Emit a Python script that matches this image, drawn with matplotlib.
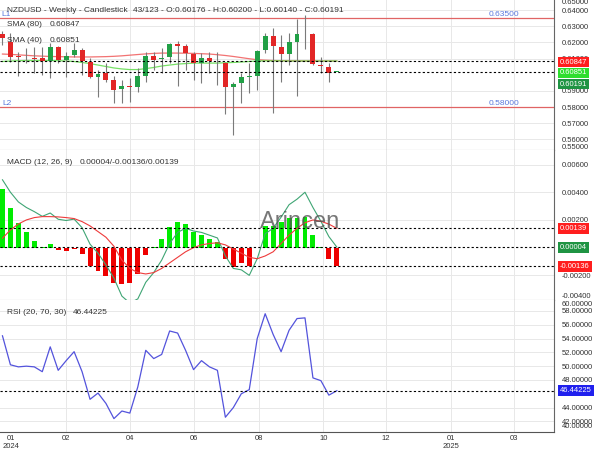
import matplotlib
matplotlib.use("Agg")
import matplotlib.pyplot as plt
import matplotlib.transforms as mtransforms
from matplotlib.ticker import FormatStrFormatter
import numpy as np

plt.rcParams['font.family'] = ['Liberation Sans', 'DejaVu Sans']

# weekly NZDUSD candles, oldest first
opens = [0.6252, 0.6202, 0.6112, 0.6101, 0.6103, 0.6103, 0.6085, 0.6171, 0.6091, 0.6122,
         0.6153, 0.6079, 0.5986, 0.6011, 0.5967, 0.5912, 0.5927, 0.5924, 0.5992, 0.6116,
         0.6097, 0.6110, 0.6190, 0.6178, 0.6128, 0.6072, 0.6103, 0.6079, 0.6072, 0.5924,
         0.5949, 0.5986, 0.5992, 0.6153, 0.6239, 0.6171, 0.6128, 0.6202, 0.6249, 0.6252,
         0.6060, 0.6048, 0.60176]
highs = [0.6270, 0.6258, 0.6140, 0.6165, 0.6171, 0.6171, 0.6196, 0.6178, 0.6140, 0.6196,
         0.6165, 0.6103, 0.6029, 0.6072, 0.5992, 0.5967, 0.5980, 0.6042, 0.6140, 0.6140,
         0.6165, 0.6196, 0.6208, 0.6190, 0.6140, 0.6134, 0.6140, 0.6140, 0.6079, 0.5955,
         0.6011, 0.6072, 0.6153, 0.6258, 0.6289, 0.6245, 0.6258, 0.6344, 0.6369, 0.6255,
         0.6110, 0.6072, 0.60200]
lows = [0.6184, 0.6079, 0.5992, 0.6072, 0.6011, 0.5998, 0.5980, 0.6072, 0.5986, 0.6110,
        0.5998, 0.5980, 0.5862, 0.5955, 0.5825, 0.5825, 0.5831, 0.5893, 0.5955, 0.6029,
        0.6011, 0.6072, 0.5930, 0.6029, 0.5967, 0.5949, 0.6011, 0.5936, 0.5757, 0.5628,
        0.5825, 0.5887, 0.5906, 0.6134, 0.5763, 0.5955, 0.6060, 0.5869, 0.6159, 0.6060,
        0.6011, 0.5955, 0.60140]
closes = [0.6227, 0.6110, 0.6108, 0.6104, 0.6100, 0.6085, 0.6171, 0.6091, 0.6116, 0.6153,
          0.6085, 0.5986, 0.6004, 0.5967, 0.5906, 0.5930, 0.5924, 0.5992, 0.6116, 0.6091,
          0.6103, 0.6190, 0.6178, 0.6134, 0.6072, 0.6103, 0.6085, 0.6076, 0.5924, 0.5943,
          0.5986, 0.5989, 0.6147, 0.6239, 0.6178, 0.6128, 0.6202, 0.6252, 0.6252, 0.6066,
          0.6057, 0.6010, 0.60191]

sma80 = [0.6128, 0.6126, 0.6123, 0.6120, 0.6117, 0.6115, 0.6113, 0.6112, 0.6111, 0.6110,
         0.6110, 0.6110, 0.6111, 0.6112, 0.6114, 0.6117, 0.6121, 0.6125, 0.6129, 0.6132,
         0.6134, 0.6134, 0.6134, 0.6133, 0.6132, 0.6130, 0.6128, 0.6124, 0.6119, 0.6113,
         0.6106, 0.6099, 0.6093, 0.6090, 0.6088, 0.6087, 0.6086, 0.6086, 0.6085, 0.6085,
         0.6085, 0.6085, 0.60847]
sma40 = [0.6082, 0.6085, 0.6087, 0.6088, 0.6088, 0.6088, 0.6088, 0.6087, 0.6085, 0.6082,
         0.6076, 0.6069, 0.6060, 0.6051, 0.6042, 0.6036, 0.6032, 0.6032, 0.6038, 0.6045,
         0.6054, 0.6060, 0.6066, 0.6069, 0.6072, 0.6072, 0.6072, 0.6072, 0.6074, 0.6076,
         0.6079, 0.6082, 0.6085, 0.6086, 0.6086, 0.6086, 0.6085, 0.6085, 0.6085, 0.6085,
         0.6085, 0.6085, 0.60851]

macd_line = [0.0049, 0.0040, 0.0033, 0.0029, 0.0026, 0.00226, 0.0025, 0.00205, 0.00196, 0.00206,
             0.00144, 0.00025, -0.0004, -0.00125, -0.0022, -0.0035, -0.0040, -0.0037, -0.0025, -0.0018,
             -0.0009, 0.0003, 0.0011, 0.0014, 0.0012, 0.0011, 0.0009, 0.0007, -0.0006, -0.0015,
             -0.0016, -0.0020, -0.0008, 0.0010, 0.0014, 0.0022, 0.0031, 0.0035, 0.0040, 0.0029,
             0.0019, 0.0008, 0.00004]
macd_signal = [0.00068, 0.00128, 0.00171, 0.00200, 0.00217, 0.00224, 0.00224, 0.00222, 0.00217, 0.00210,
               0.00188, 0.00157, 0.00116, 0.00075, 0.0001, -0.0009, -0.0015, -0.0018, -0.0019, -0.0018,
               -0.0015, -0.0011, -0.0007, -0.0003, 0.0000, 0.0002, 0.0003, 0.00035, 0.0002, -0.0001,
               -0.0004, -0.0007, -0.0008, -0.0006, -0.0003, 0.0003, 0.0009, 0.0014, 0.0018, 0.0020,
               0.0019, 0.0017, 0.00139]
macd_hist = [0.00424, 0.00289, 0.00181, 0.00111, 0.00051, 0.00002, 0.00024, -0.00017, -0.00022, -0.00007,
             -0.00046, -0.00132, -0.00166, -0.00205, -0.00253, -0.00262, -0.00253, -0.00190, -0.00055, 0.00002,
             0.00061, 0.00147, 0.00186, 0.00171, 0.00116, 0.00089, 0.00061, 0.00039, -0.00082, -0.00142,
             -0.00113, -0.00130, -0.00002, 0.00157, 0.00157, 0.00188, 0.00212, 0.00212, 0.00224, 0.00092,
             0.00002, -0.00084, -0.00136]

rsi = [54.4, 50.2, 49.9, 50.0, 49.9, 49.2, 52.8, 49.4, 50.8, 52.1,
       49.2, 45.2, 46.1, 44.6, 42.4, 43.5, 43.2, 47.0, 52.3, 51.1,
       51.7, 55.1, 54.8, 52.3, 49.5, 50.8, 49.9, 49.4, 42.6, 44.0,
       46.0, 46.6, 54.0, 57.6, 54.6, 52.1, 55.2, 56.9, 57.0, 48.3,
       47.9, 45.8, 46.44225]

level_hi = 0.635
level_lo = 0.580

month_labels = ['01\n2024', '02', '04', '06', '08', '10', '12', '01\n2025', '03']
tick_pos = [1.1, 8.0, 16.0, 24.1, 32.2, 40.3, 48.2, 56.3, 64.3]

W, H = 600, 450
fig = plt.figure(figsize=(6, 4.5), dpi=100)


def fpos(px, py):
    return px / W, 1 - py / H


pw = 554 / W
ax1 = fig.add_axes([0, 1 - 150 / H, pw, 150 / H])
ax2 = fig.add_axes([0, 1 - 300 / H, pw, 150 / H])
ax3 = fig.add_axes([0, 1 - 432 / H, pw, 132 / H])

grid_c = '#e8e8e8'
tick_c = '#333333'
fmt = FormatStrFormatter('%.5f')

for ax in (ax1, ax2, ax3):
    ax.set_xlim(-0.31, 69.28)
    ax.yaxis.tick_right()
    ax.yaxis.set_major_formatter(fmt)
    ax.tick_params(axis='y', length=0, pad=5.5, labelsize=5.5, labelcolor=tick_c)
    ax.tick_params(axis='x', length=0, labelbottom=False)
    ax.set_xticks(tick_pos)
    ax.spines['top'].set_visible(False)
    ax.spines['left'].set_visible(False)
    ax.spines['right'].set_color('#666666')
    ax.spines['bottom'].set_color('#999999')
    ax.grid(axis='y', color=grid_c, lw=0.7)
    ax.set_axisbelow(True)
    for t in tick_pos[1:]:
        ax.axvline(t, color=grid_c, lw=0.7, zorder=0)

dot = (0, (2, 2))

# ---- price panel
x = np.arange(len(closes))
o = np.array(opens)
c = np.array(closes)
up = c >= o
ax1.set_ylim(0.5535, 0.6462)
# 0.60000 sits under the value boxes, so it is left out
ax1.set_yticks([0.56, 0.57, 0.58, 0.59, 0.61, 0.62, 0.63, 0.64])
ax1.axhline(level_hi, color='#e06464', lw=0.9, zorder=1)
ax1.axhline(level_lo, color='#e06464', lw=0.9, zorder=1)
ax1.plot(x, sma80, color='#f05a5a', lw=0.9, alpha=0.85, zorder=2)
ax1.plot(x, sma40, color='#5fdc4a', lw=0.9, alpha=0.85, zorder=2)
ax1.vlines(x, lows, highs, color='#7a7a7a', lw=0.8, zorder=3)
ax1.bar(x, np.maximum(np.abs(c - o), 0.0005), bottom=np.minimum(o, c), width=0.62,
        color=np.where(up, '#21a046', '#e22626'), zorder=4)
ax1.axhline(sma80[-1], color='black', lw=0.8, ls=dot, zorder=5)
ax1.axhline(closes[-1], color='black', lw=0.8, ls=dot, zorder=5)

lvl_c = '#5a78dc'
ax1.text(64.9, level_hi, f'{level_hi:.5f}', color=lvl_c, fontsize=6, ha='right', va='bottom')
ax1.text(64.9, level_lo, f'{level_lo:.5f}', color=lvl_c, fontsize=6, ha='right', va='bottom')
ax1.text(0.0, level_lo, 'L2', color=lvl_c, fontsize=6, ha='left', va='bottom')
ax1.text(-0.1, level_hi, 'L1', color=lvl_c, fontsize=6, ha='left', va='bottom')

fig.text(*fpos(7, 11), 'NZDUSD - Weekly - Candlestick', fontsize=6, va='center', color=tick_c)
fig.text(*fpos(133, 11), f'43/123 - O:{opens[-1]:.5f} - H:{highs[-1]:.5f} - L:{lows[-1]:.5f} - C:{closes[-1]:.5f}',
         fontsize=6, va='center', color=tick_c)
fig.text(*fpos(7, 25), 'SMA (80)', fontsize=6, va='center', color=tick_c)
fig.text(*fpos(50, 25), f'{sma80[-1]:.5f}', fontsize=6, va='center', color=tick_c)
fig.text(*fpos(7, 40), 'SMA (40)', fontsize=6, va='center', color=tick_c)
fig.text(*fpos(50, 40), f'{sma40[-1]:.5f}', fontsize=6, va='center', color=tick_c)


def value_box(py, text, fc):
    fig.text(*fpos(560, py), text, fontsize=5.5, color='white', va='center', ha='left',
             bbox=dict(boxstyle='square,pad=0.25', fc=fc, ec='none'))


def edge_label(py, text):
    fig.text(*fpos(561.5, py), text, fontsize=5.5, color=tick_c, va='center', ha='left')


edge_label(2, '0.65000')
edge_label(147.5, '0.55000')
value_box(62, f'{sma80[-1]:.5f}', '#ff1e1e')
value_box(73, f'{sma40[-1]:.5f}', '#2ede2e')
value_box(84, f'{closes[-1]:.5f}', '#1f9443')

# ---- MACD panel
xi = np.arange(len(macd_hist))
h = np.array(macd_hist)
ax2.set_ylim(-0.00378, 0.00705)
ax2.set_yticks([-0.002, 0.002, 0.004, 0.006])
ax2.bar(xi, h, width=0.62, color=np.where(h >= 0, '#00ec00', '#ee0000'), zorder=2)
ax2.plot(xi, macd_line, color='#3fa574', lw=0.8, zorder=3)
ax2.plot(xi, macd_signal, color='#ee3b3b', lw=0.8, zorder=3)
for v in (macd_signal[-1], macd_line[-1], macd_hist[-1]):
    ax2.axhline(v, color='black', lw=0.8, ls=dot, zorder=4)

fig.text(*fpos(7, 162), 'MACD (12, 26, 9)', fontsize=6, va='center', color=tick_c)
fig.text(*fpos(80, 162), f'{macd_line[-1]:.5f}/{macd_hist[-1]:.5f}/{macd_signal[-1]:.5f}',
         fontsize=6, va='center', color=tick_c)
fig.text(*fpos(300, 222), 'Arincen', fontsize=17, color='#555555', alpha=0.8,
         ha='center', va='center')

blend2 = mtransforms.blended_transform_factory(fig.transFigure, ax2.transData)
for v, fc in ((macd_signal[-1], '#ff1e1e'), (macd_line[-1], '#1f9443'), (macd_hist[-1], '#ff1e1e')):
    ax2.text(560 / W, v, f'{v:.5f}', transform=blend2, fontsize=5.5, color='white',
             va='center', ha='left', clip_on=False, zorder=6,
             bbox=dict(boxstyle='square,pad=0.25', fc=fc, ec='none'))
edge_label(296, '-0.00400')

# ---- RSI panel
ax3.set_ylim(40.46, 59.59)
ax3.set_yticks([42, 44, 48, 50, 52, 54, 56, 58])
ax3.plot(xi, rsi, color='#5353dc', lw=0.9, zorder=3)
ax3.axhline(rsi[-1], color='black', lw=0.8, ls=dot, zorder=4)
ax3.spines['bottom'].set_color('#555555')
ax3.tick_params(axis='x', labelbottom=True, labelsize=5.5, labelcolor=tick_c, pad=2)
ax3.set_xticklabels(month_labels)

fig.text(*fpos(7, 312), 'RSI (20, 70, 30)', fontsize=6, va='center', color=tick_c)
fig.text(*fpos(73, 312), f'{rsi[-1]:.5f}', fontsize=6, va='center', color=tick_c)
blend3 = mtransforms.blended_transform_factory(fig.transFigure, ax3.transData)
ax3.text(560 / W, rsi[-1], f'{rsi[-1]:.5f}', transform=blend3, fontsize=5.5, color='white',
         va='center', ha='left', clip_on=False, zorder=6,
         bbox=dict(boxstyle='square,pad=0.25', fc='#2020ee', ec='none'))
edge_label(304.5, '60.00000')
edge_label(427, '40.00000')

fig.savefig('out.png', dpi=100)
